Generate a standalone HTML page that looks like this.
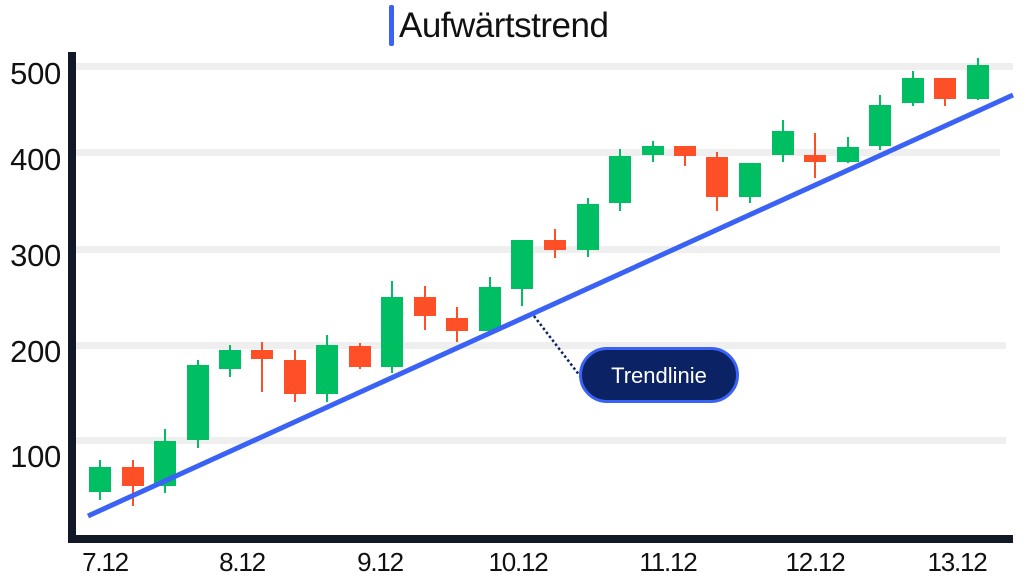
<!DOCTYPE html>
<html><head><meta charset="utf-8"><style>
html,body{margin:0;padding:0;background:#fff;}
svg{display:block;}
text{font-family:"Liberation Sans",sans-serif;fill:#111;}
</style></head><body>
<svg width="1025" height="585" viewBox="0 0 1025 585" xmlns="http://www.w3.org/2000/svg">
<g fill="#efefef">
<rect x="76" y="63" width="937" height="7"/>
<rect x="76" y="149" width="924" height="7"/>
<rect x="76" y="246" width="924" height="7"/>
<rect x="76" y="342" width="930" height="7"/>
<rect x="76" y="437" width="930" height="7"/>
</g>
<rect x="389" y="5" width="5" height="41" rx="2" fill="#3a63f5"/>
<text x="399" y="37" font-size="35" letter-spacing="-0.5">Aufwärtstrend</text>
<g font-size="31" text-anchor="end" letter-spacing="-0.3">
<text x="61" y="84">500</text>
<text x="61" y="170">400</text>
<text x="61" y="266">300</text>
<text x="61" y="362">200</text>
<text x="61" y="467">100</text>
</g>
<g font-size="26" text-anchor="middle" letter-spacing="-1.2">
<text x="105" y="571">7.12</text>
<text x="242" y="571">8.12</text>
<text x="380" y="571">9.12</text>
<text x="518" y="571">10.12</text>
<text x="668" y="571">11.12</text>
<text x="815" y="571">12.12</text>
<text x="957" y="571">13.12</text>
</g>
<g stroke-width="2">
<line x1="100" y1="460" x2="100" y2="500" stroke="#00bf63"/><rect x="89" y="467" width="22" height="25" fill="#00bf63"/>
<line x1="133" y1="460" x2="133" y2="506" stroke="#ff4f27"/><rect x="122" y="467" width="22" height="19" fill="#ff4f27"/>
<line x1="165" y1="429" x2="165" y2="493" stroke="#00bf63"/><rect x="154" y="441" width="22" height="45" fill="#00bf63"/>
<line x1="198" y1="360" x2="198" y2="448" stroke="#00bf63"/><rect x="187" y="365" width="22" height="75" fill="#00bf63"/>
<line x1="230" y1="345" x2="230" y2="377" stroke="#00bf63"/><rect x="219" y="350" width="22" height="19" fill="#00bf63"/>
<line x1="262" y1="342" x2="262" y2="392" stroke="#ff4f27"/><rect x="251" y="350" width="22" height="9" fill="#ff4f27"/>
<line x1="295" y1="350" x2="295" y2="402" stroke="#ff4f27"/><rect x="284" y="360" width="22" height="34" fill="#ff4f27"/>
<line x1="327" y1="335" x2="327" y2="402" stroke="#00bf63"/><rect x="316" y="345" width="22" height="49" fill="#00bf63"/>
<line x1="360" y1="343" x2="360" y2="369" stroke="#ff4f27"/><rect x="349" y="346" width="22" height="21" fill="#ff4f27"/>
<line x1="392" y1="281" x2="392" y2="373" stroke="#00bf63"/><rect x="381" y="297" width="22" height="70" fill="#00bf63"/>
<line x1="425" y1="286" x2="425" y2="330" stroke="#ff4f27"/><rect x="414" y="297" width="22" height="19" fill="#ff4f27"/>
<line x1="457" y1="307" x2="457" y2="342" stroke="#ff4f27"/><rect x="446" y="318" width="22" height="13" fill="#ff4f27"/>
<line x1="490" y1="277" x2="490" y2="335" stroke="#00bf63"/><rect x="479" y="287" width="22" height="44" fill="#00bf63"/>
<line x1="522" y1="240" x2="522" y2="306" stroke="#00bf63"/><rect x="511" y="240" width="22" height="49" fill="#00bf63"/>
<line x1="555" y1="229" x2="555" y2="258" stroke="#ff4f27"/><rect x="544" y="240" width="22" height="10" fill="#ff4f27"/>
<line x1="588" y1="198" x2="588" y2="257" stroke="#00bf63"/><rect x="577" y="204" width="22" height="46" fill="#00bf63"/>
<line x1="620" y1="149" x2="620" y2="211" stroke="#00bf63"/><rect x="609" y="156" width="22" height="47" fill="#00bf63"/>
<line x1="653" y1="141" x2="653" y2="162" stroke="#00bf63"/><rect x="642" y="146" width="22" height="9" fill="#00bf63"/>
<line x1="685" y1="146" x2="685" y2="166" stroke="#ff4f27"/><rect x="674" y="146" width="22" height="10" fill="#ff4f27"/>
<line x1="717" y1="152" x2="717" y2="211" stroke="#ff4f27"/><rect x="706" y="157" width="22" height="40" fill="#ff4f27"/>
<line x1="750" y1="163" x2="750" y2="203" stroke="#00bf63"/><rect x="739" y="163" width="22" height="34" fill="#00bf63"/>
<line x1="783" y1="120" x2="783" y2="162" stroke="#00bf63"/><rect x="772" y="131" width="22" height="24" fill="#00bf63"/>
<line x1="815" y1="133" x2="815" y2="178" stroke="#ff4f27"/><rect x="804" y="155" width="22" height="7" fill="#ff4f27"/>
<line x1="848" y1="137" x2="848" y2="163" stroke="#00bf63"/><rect x="837" y="147" width="22" height="15" fill="#00bf63"/>
<line x1="880" y1="95" x2="880" y2="150" stroke="#00bf63"/><rect x="869" y="105" width="22" height="41" fill="#00bf63"/>
<line x1="913" y1="71" x2="913" y2="106" stroke="#00bf63"/><rect x="902" y="78" width="22" height="25" fill="#00bf63"/>
<line x1="945" y1="78" x2="945" y2="106" stroke="#ff4f27"/><rect x="934" y="78" width="22" height="21" fill="#ff4f27"/>
<line x1="978" y1="58" x2="978" y2="100" stroke="#00bf63"/><rect x="967" y="65" width="22" height="34" fill="#00bf63"/>
</g>
<rect x="68" y="52" width="8" height="490" fill="#111827"/>
<rect x="68" y="535" width="945" height="8" fill="#111827"/>
<line x1="88" y1="516" x2="1013" y2="95" stroke="#3a63f5" stroke-width="5"/>
<line x1="534" y1="316" x2="580" y2="376" stroke="#0b2265" stroke-width="2.5" stroke-dasharray="2.5,2.5"/>
<rect x="580.5" y="348.5" width="157" height="53" rx="26.5" fill="#0b2265" stroke="#3a63f5" stroke-width="3"/>
<text x="659" y="383" font-size="22" text-anchor="middle" style="fill:#fff">Trendlinie</text>
</svg>
</body></html>
